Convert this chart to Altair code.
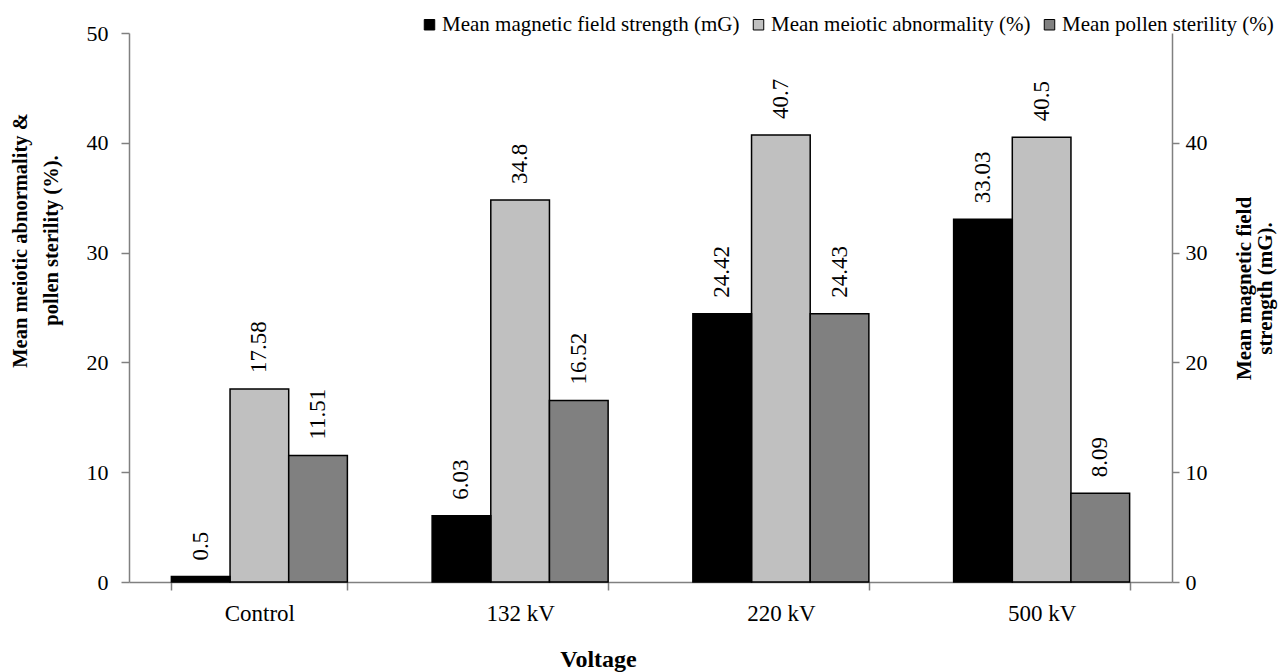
import altair as alt
import pandas as pd

categories = ["Control", "132 kV", "220 kV", "500 kV"]
series = ["Mean magnetic field strength (mG)", "Mean meiotic abnormality (%)", "Mean pollen sterility (%)"]
magnetic = [0.5, 6.03, 24.42, 33.03]
meiotic = [17.58, 34.8, 40.7, 40.5]
pollen = [11.51, 16.52, 24.43, 8.09]
left_ticks = [0, 10, 20, 30, 40, 50]
right_ticks = [0, 10, 20, 30, 40]

rows = []
for s, vals in zip(series, [magnetic, meiotic, pollen]):
    for c, v in zip(categories, vals):
        rows.append({"cat": c, "series": s, "value": v, "label": str(v)})
df = pd.DataFrame(rows)

FONT = "Liberation Serif"

x_enc = alt.X("cat:N", sort=categories,
              scale=alt.Scale(paddingInner=0.325, paddingOuter=0.1625),
              axis=alt.Axis(title="Voltage", tickBand="extent", tickSize=8, labelPadding=12,
                            labelFontSize=23, titlePadding=22, labelAngle=0, titleFontSize=24,
                            titleFontWeight="bold", titleX=469))
xoff = alt.XOffset("series:N", sort=series, scale=alt.Scale(domain=series, paddingInner=0, paddingOuter=0))
fill_enc = alt.Fill("series:N", sort=series,
                    scale=alt.Scale(domain=series, range=["#000000", "#C0C0C0", "#808080"]),
                    legend=alt.Legend(title=None, orient="none", legendX=290, legendY=-19,
                                      direction="horizontal", symbolType="square", symbolSize=110,
                                      symbolStrokeColor="black", symbolStrokeWidth=1,
                                      labelFont=FONT, labelFontSize=21, labelLimit=0, columnPadding=8,
                                      labelOffset=2, labelColor="black"))

yscale = alt.Scale(domain=[0, 50], nice=False)

base = alt.Chart(df)

left_y = alt.Y("value:Q", scale=yscale,
               axis=alt.Axis(orient="left", values=left_ticks, tickSize=8, labelPadding=13,
                             labelFontSize=22,
                             title=["Mean meiotic abnormality &", "pollen sterility (%)."],
                             titleAngle=270, titleFontSize=20.5, titleFontWeight="bold",
                             titleLineHeight=31, titlePadding=25, titleY=207, grid=False))
right_y = alt.Y("value:Q", scale=yscale,
                axis=alt.Axis(orient="right", values=right_ticks, tickSize=7, labelPadding=6,
                              labelFontSize=22,
                              title=["Mean magnetic field", "strength (mG)."],
                              titleAngle=270, titleBaseline="top", titleFontSize=21,
                              titleFontWeight="bold", titleLineHeight=21, titleX=61, titleY=255,
                              grid=False))

left_filter = alt.datum.series != series[0]
right_filter = alt.datum.series == series[0]

bars_left = base.transform_filter(left_filter).mark_bar(stroke="black", strokeWidth=1.5).encode(
    x=x_enc, xOffset=xoff, y=left_y, fill=fill_enc)
text_left = base.transform_filter(left_filter).mark_text(
    angle=270, align="left", baseline="middle", dx=16, font=FONT, fontSize=23, color="black").encode(
    x=alt.X("cat:N", sort=categories), xOffset=xoff, y=alt.Y("value:Q", scale=yscale), text="label:N")

bars_right = base.transform_filter(right_filter).mark_bar(stroke="black", strokeWidth=1.5).encode(
    x=x_enc, xOffset=xoff, y=right_y, fill=fill_enc)
text_right = base.transform_filter(right_filter).mark_text(
    angle=270, align="left", baseline="middle", dx=16, font=FONT, fontSize=23, color="black").encode(
    x=alt.X("cat:N", sort=categories), xOffset=xoff, y=alt.Y("value:Q", scale=yscale), text="label:N")

chart = alt.layer(
    alt.layer(bars_left, text_left),
    alt.layer(bars_right, text_right),
).resolve_scale(y="independent").properties(
    width=1043, height=549, autosize="none",
    padding={"left": 129, "top": 33, "right": 112, "bottom": 90},
    background="white",
).configure_view(stroke=None).configure_axis(
    domainColor="#808080", tickColor="#808080", labelFont=FONT, labelFontSize=21,
    labelColor="black", titleFont=FONT, titleColor="black", grid=False,
    domainWidth=1.5, tickWidth=1.5,
)

chart.save("out.html", embed_options={"renderer": "svg", "actions": False})
